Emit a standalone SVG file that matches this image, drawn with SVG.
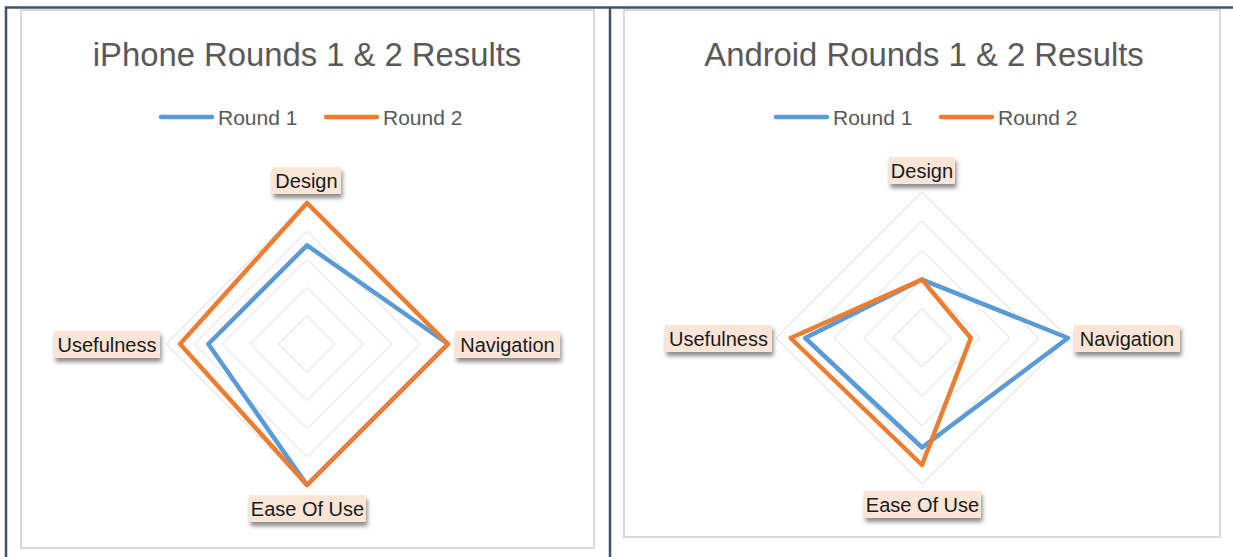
<svg xmlns="http://www.w3.org/2000/svg" width="1233" height="557" viewBox="0 0 1233 557">
<defs>
<style>
.panel{fill:#fff;stroke:#d9d9d9;stroke-width:2}
.frame{stroke:#44546a;stroke-width:2.5;fill:none}
.title{font-family:"Liberation Sans",Arial,sans-serif;font-size:32.8px;fill:#595959;text-anchor:middle}
.leg{font-family:"Liberation Sans",Arial,sans-serif;font-size:21px;fill:#595959}
.grid{fill:none;stroke:#d9d9d9;stroke-width:1}
.s1{fill:none;stroke:#5b9bd5;stroke-width:4.5;stroke-linejoin:round}
.s2{fill:none;stroke:#ed7d31;stroke-width:4.5;stroke-linejoin:round}
.l1{stroke:#5b9bd5;stroke-width:4.5;stroke-linecap:round}
.l2{stroke:#ed7d31;stroke-width:4.5;stroke-linecap:round}
.lbox{fill:#fbe5d6;filter:url(#sh)}
.ltxt{font-family:"Liberation Sans",Arial,sans-serif;font-size:20px;fill:#1a1a1a;text-anchor:middle}
</style>
<filter id="sh" x="-20%" y="-30%" width="140%" height="180%">
<feDropShadow dx="1.5" dy="4" stdDeviation="2" flood-color="#000" flood-opacity="0.45"/>
</filter>
</defs>
<rect width="1233" height="557" fill="#fff"/>
<g id="frame">
<line class="frame" x1="5" y1="7.5" x2="1233" y2="7.5"/>
<line class="frame" x1="6" y1="6.5" x2="6" y2="557"/>
<line class="frame" x1="610" y1="6.5" x2="610" y2="557"/>
</g>
<g id="chart-iphone">
<rect class="panel" x="21" y="10" width="573" height="538"/>
<text class="title" x="307" y="66">iPhone Rounds 1 &amp; 2 Results</text>
<g id="legend-iphone">
<line class="l1" x1="161" y1="117" x2="212" y2="117"/>
<text class="leg" x="218" y="124.5">Round 1</text>
<line class="l2" x1="326" y1="117" x2="377" y2="117"/>
<text class="leg" x="383" y="124.5">Round 2</text>
</g>
<g id="grid-iphone">
<polygon class="grid" points="307,315.8 335.2,344 307,372.2 278.8,344"/>
<polygon class="grid" points="307,287.6 363.4,344 307,400.4 250.6,344"/>
<polygon class="grid" points="307,259.4 391.6,344 307,428.6 222.4,344"/>
<polygon class="grid" points="307,231.2 419.8,344 307,456.8 194.2,344"/>
<polygon class="grid" points="307,203 448,344 307,485 166,344"/>
</g>
<g id="series-iphone">
<polygon class="s1" points="307,245.3 448,344 307,485 208.3,344"/>
<polygon class="s2" points="307,203 448,344 307,485 180.1,344"/>
</g>
<g id="label-iphone-design"><rect class="lbox" x="272" y="167" width="69" height="27"/><text class="ltxt" x="306.5" y="188">Design</text></g>
<g id="label-iphone-navigation"><rect class="lbox" x="455" y="331" width="105" height="27"/><text class="ltxt" x="507.5" y="352">Navigation</text></g>
<g id="label-iphone-ease"><rect class="lbox" x="249" y="495" width="117" height="27"/><text class="ltxt" x="307.5" y="516">Ease Of Use</text></g>
<g id="label-iphone-usefulness"><rect class="lbox" x="54" y="331" width="106" height="27"/><text class="ltxt" x="107" y="352">Usefulness</text></g>
</g>
<g id="chart-android">
<rect class="panel" x="624" y="10" width="596" height="527"/>
<text class="title" x="924" y="66">Android Rounds 1 &amp; 2 Results</text>
<g id="legend-android">
<line class="l1" x1="776" y1="117" x2="827" y2="117"/>
<text class="leg" x="833" y="124.5">Round 1</text>
<line class="l2" x1="941" y1="117" x2="992" y2="117"/>
<text class="leg" x="998" y="124.5">Round 2</text>
</g>
<g id="grid-android">
<polygon class="grid" points="922,308.8 951.2,338 922,367.2 892.8,338"/>
<polygon class="grid" points="922,279.6 980.4,338 922,396.4 863.6,338"/>
<polygon class="grid" points="922,250.4 1009.6,338 922,425.6 834.4,338"/>
<polygon class="grid" points="922,221.2 1038.8,338 922,454.8 805.2,338"/>
<polygon class="grid" points="922,192 1068,338 922,484 776,338"/>
</g>
<g id="series-android">
<polygon class="s1" points="922,279.6 1068,338 922,447.5 805.2,338"/>
<polygon class="s2" points="922,279.6 970.8,338 922,465 790.6,338"/>
</g>
<g id="label-android-design"><rect class="lbox" x="889" y="157" width="66" height="27"/><text class="ltxt" x="922" y="178">Design</text></g>
<g id="label-android-navigation"><rect class="lbox" x="1074" y="325" width="106" height="27"/><text class="ltxt" x="1127" y="346">Navigation</text></g>
<g id="label-android-ease"><rect class="lbox" x="864" y="491" width="117" height="27"/><text class="ltxt" x="922.5" y="512">Ease Of Use</text></g>
<g id="label-android-usefulness"><rect class="lbox" x="665" y="325" width="107" height="27"/><text class="ltxt" x="718.5" y="346">Usefulness</text></g>
</g>
</svg>
